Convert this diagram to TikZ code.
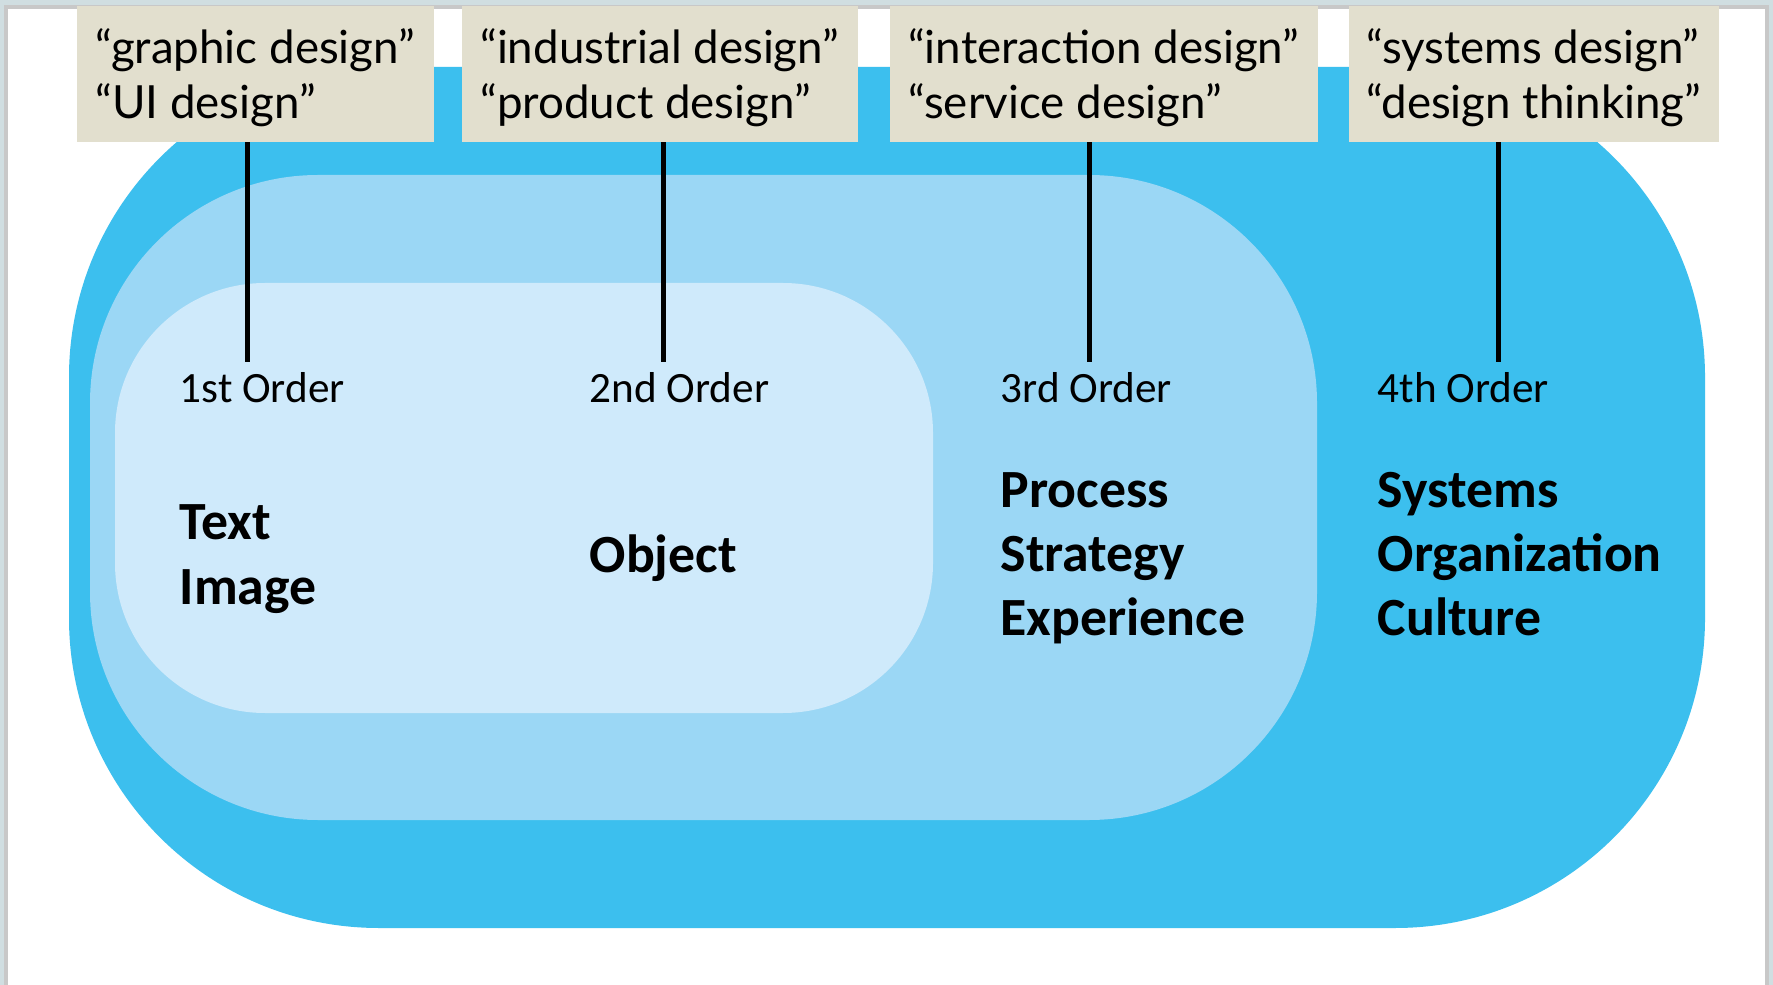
\documentclass[tikz,border=0pt]{standalone}
\usepackage{fontspec}
\usepackage{xcolor}
\usepackage{tikz}
\usetikzlibrary{positioning,calc}
\setmainfont{Carlito}
\newfontfamily\quotefont{Lato}

\definecolor{slidebg}{RGB}{208,222,225}
\definecolor{slideline}{RGB}{200,200,200}
\definecolor{outerblue}{RGB}{60,191,238}
\definecolor{midblue}{RGB}{155,215,245}
\definecolor{innerblue}{RGB}{207,234,251}
\definecolor{tagfill}{RGB}{226,223,206}

\begin{document}
\begin{tikzpicture}[
    tag/.style={fill=tagfill, anchor=north west, minimum height=1.36cm,
        inner sep=0pt, text depth=0pt, align=left,
        font=\quotefont\fontsize{13}{15.6}\selectfont},
    order/.style={anchor=base west, inner sep=0pt,
        font=\fontsize{12.3}{14.8}\selectfont},
    items/.style={anchor=base west, inner sep=0pt, text width=4cm, align=left,
        font=\bfseries\fontsize{15.3}{18.3}\selectfont},
    stem/.style={line width=0.05cm, black}
]
    \useasboundingbox (0,0) rectangle (17.73,-9.85);
    % slide background and frame
    \fill[slidebg] (0,0) rectangle (17.73,-9.85);
    \draw[slideline, fill=white, line width=0.04cm] (0.06,-0.07) rectangle (17.67,-10.2);

    % nested regions
    \fill[outerblue, rounded corners=3.1cm] (0.69,-0.67) rectangle (17.05,-9.28);
    \fill[midblue, rounded corners=2.28cm] (0.90,-1.75) rectangle (13.17,-8.20);
    \fill[innerblue, rounded corners=1.5cm] (1.15,-2.83) rectangle (9.33,-7.13);

    % quoted names on top
    \node[tag, minimum width=3.57cm] (g1) at (0.76,-0.05) {“graphic design”\\“UI design”};
    \node[tag, minimum width=3.96cm] (g2) at (4.61,-0.05) {“industrial design”\\“product design”};
    \node[tag, minimum width=4.28cm] (g3) at (8.89,-0.05) {“interaction design”\\“service design”};
    \node[tag, minimum width=3.70cm] (g4) at (13.48,-0.05) {“systems design”\\“design thinking”};

    % orders
    \node[order] (o1) at (1.79,-4.03) {1st Order};
    \node[order] (o2) at (5.89,-4.03) {2nd Order};
    \node[order] (o3) at (10.00,-4.03) {3rd Order};
    \node[order] (o4) at (13.77,-4.03) {4th Order};

    \node[items] (i1) at (1.79,-5.40) {Text\\Image};
    \node[items] (i2) at (5.89,-5.72) {Object};
    \node[items] (i3) at (10.00,-5.07) {Process\\Strategy\\Experience};
    \node[items] (i4) at (13.77,-5.07) {Systems\\Organization\\Culture};

    % stems
    \coordinate (s1) at (2.47,-3.62);
    \coordinate (s2) at (6.63,-3.62);
    \coordinate (s3) at (10.89,-3.62);
    \coordinate (s4) at (14.98,-3.62);
    \draw[stem] (s1 |- g1.south) -- (s1);
    \draw[stem] (s2 |- g2.south) -- (s2);
    \draw[stem] (s3 |- g3.south) -- (s3);
    \draw[stem] (s4 |- g4.south) -- (s4);
\end{tikzpicture}
\end{document}
